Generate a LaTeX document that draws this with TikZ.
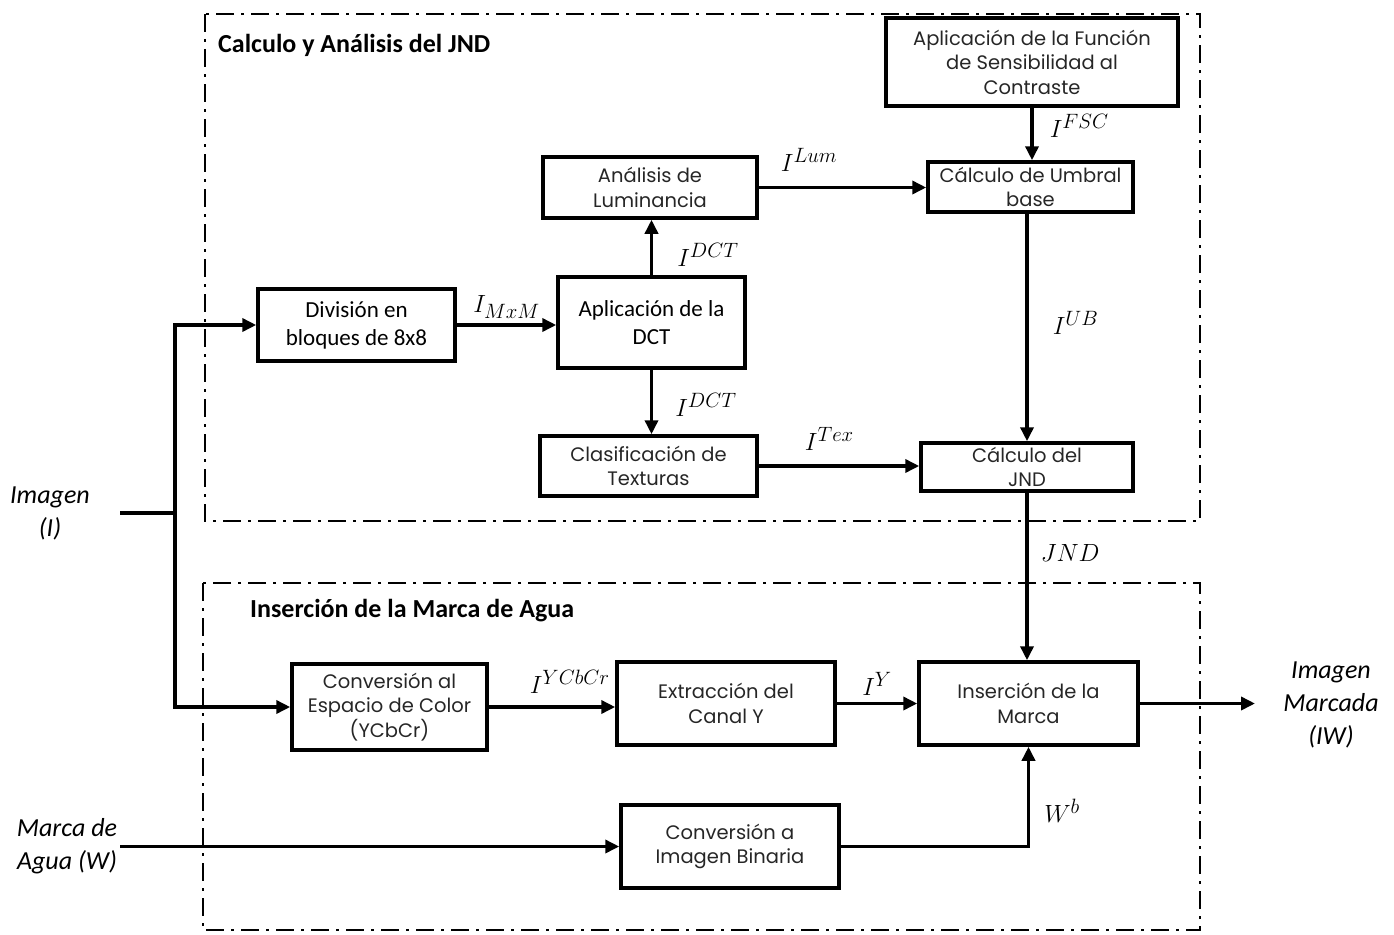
\documentclass[tikz,border=0pt]{standalone}
\usepackage{fontspec}
\setmainfont{Carlito}
\newfontfamily\gothic{Poppins}
\usetikzlibrary{arrows.meta}
\begin{document}
\begin{tikzpicture}[x=1pt,y=-1pt,
 blk/.style={draw, line width=3.5pt, inner sep=0pt, align=center, font=\gothic\fontsize{19.5}{24.5}\selectfont, text=black!85},
 blkc/.style={blk, font=\fontsize{23}{28}\selectfont, text=black},
 flow/.style={line width=3.5pt, -{Triangle[length=14pt,width=13pt]}},
 wire/.style={line width=3.5pt},
 lbl/.style={font=\fontsize{29}{31}\selectfont, inner sep=0pt},
 io/.style={font=\itshape\fontsize{26}{33}\selectfont, align=center},
 grp/.style={line width=2.5pt, dash pattern=on 18pt off 7pt on 3pt off 7pt},
 ttl/.style={font=\bfseries\fontsize{26}{30}\selectfont, anchor=west, inner sep=0pt}]
\useasboundingbox (0,0) rectangle (1394,934);

% group frames
\draw[grp] (205,14) rectangle (1200,521);
\draw[grp] (203,583) rectangle (1200,930);
\node[ttl] (t1) at (218,45) {Calculo y Análisis del JND};
\node[ttl] (t2) at (250,611) {Inserción de la Marca de Agua};

% blocks
\node[blk, minimum width=292pt, minimum height=88pt] (fsc) at (1032,62) {Aplicación de la Función\\de Sensibilidad al\\Contraste};
\node[blk, minimum width=214pt, minimum height=61pt] (lum) at (650,187.5) {Análisis de\\Luminancia};
\node[blk, minimum width=205pt, minimum height=50pt] (umb) at (1030.5,187) {Cálculo de Umbral\\base};
\node[blkc, minimum width=197pt, minimum height=72pt] (div) at (356.5,325) {División en\\bloques de 8x8};
\node[blkc, minimum width=187pt, minimum height=91pt] (dct) at (651.5,322.5) {Aplicación de la\\DCT};
\node[blk, minimum width=217pt, minimum height=60pt] (tex) at (648.5,466) {Clasificación de\\Texturas};
\node[blk, minimum width=212pt, minimum height=48pt] (jnd) at (1027,467) {Cálculo del\\JND};
\node[blk, minimum width=195pt, minimum height=86pt] (ycc) at (389.5,707) {Conversión al\\Espacio de Color\\(YCbCr)};
\node[blk, minimum width=218pt, minimum height=83pt] (ext) at (726,703.5) {Extracción del\\Canal Y};
\node[blk, minimum width=219pt, minimum height=83pt] (ins) at (1028.5,703.5) {Inserción de la\\Marca};
\node[blk, minimum width=218pt, minimum height=83pt] (bin) at (730,846.5) {Conversión a\\Imagen Binaria};

% inputs / outputs
\node[io] (imgI) at (50,513) {Imagen\\(I)};
\node[io] (wm) at (67,846) {Marca de\\Agua (W)};
\node[io] (imgW) at (1331,705) {Imagen\\Marcada\\(IW)};
\coordinate (a) at (120,513);
\coordinate (j) at (175,513);
\coordinate (w0) at (120,846.5);
\coordinate (out) at (1255,703.5);

% connectors
\draw[wire] (a) -- (j);
\draw[flow] (j) |- (div.west);
\draw[flow] (j) |- (ycc.west);
\draw[flow] (div.east) -- (div.east -| dct.west) node[lbl, midway, above=5pt] {$I_{MxM}$};
\draw[flow] (dct.north) -- (dct.north |- lum.south) node[lbl, midway, anchor=west, xshift=24pt, yshift=-7pt] {$I^{DCT}$};
\draw[flow] (dct.south) -- (dct.south |- tex.north) node[lbl, midway, anchor=west, xshift=22pt, yshift=-3pt] {$I^{DCT}$};
\draw[flow] (lum.east) -- (lum.east -| umb.west) node[lbl, pos=0.3, above=14pt] {$I^{Lum}$};
\draw[flow] (fsc.south) -- (fsc.south |- umb.north) node[lbl, midway, anchor=west, xshift=16pt, yshift=8pt] {$I^{FSC}$};
\draw[flow] (jnd.north |- umb.south) -- (jnd.north) node[lbl, midway, anchor=west, xshift=24pt, yshift=5pt] {$I^{UB}$};
\draw[flow] (tex.east) -- (tex.east -| jnd.west) node[lbl, pos=0.44, above=14pt] {$I^{Tex}$};
\draw[flow] (jnd.south) -- (jnd.south |- ins.north) node[lbl, midway, anchor=west, xshift=12pt, yshift=24pt] {$JND$};
\draw[flow] (ycc.east) -- (ycc.east -| ext.west) node[lbl, pos=0.64, above=12pt] {$I^{YCbCr}$};
\draw[flow] (ext.east) -- (ins.west) node[lbl, midway, above=6pt] {$I^{Y}$};
\draw[flow] (ins.east) -- (out);
\draw[flow] (w0) -- (bin.west);
\draw[flow] (bin.east) -| (ins.south) node[lbl, pos=0.75, anchor=west, xshift=14pt, yshift=-14pt] {$W^{b}$};
\end{tikzpicture}
\end{document}
